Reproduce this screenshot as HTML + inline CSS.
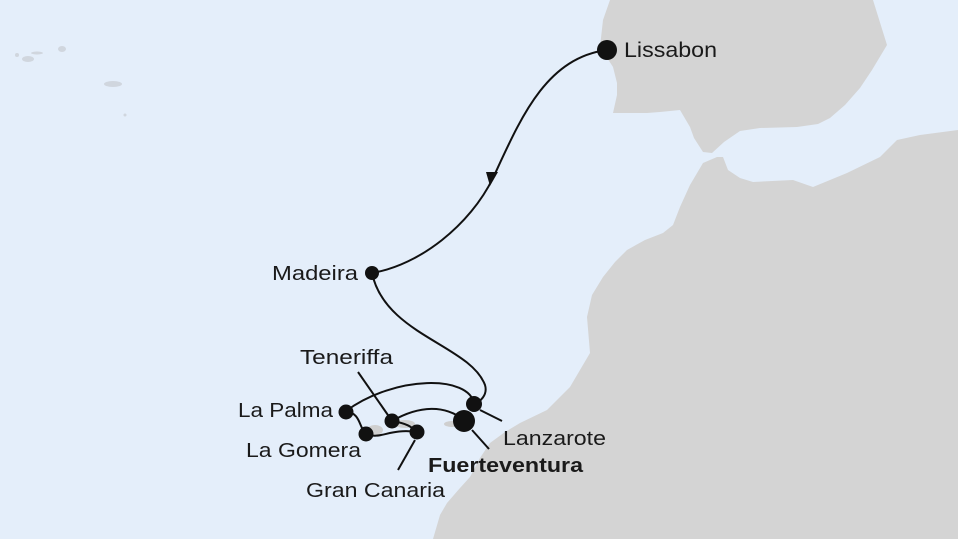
<!DOCTYPE html>
<html><head><meta charset="utf-8"><style>
html,body{margin:0;padding:0;background:#e4eefa;}
svg{display:block}
text{font-family:"Liberation Sans",sans-serif;font-size:20px;fill:#1a1a1a}
</style></head><body>
<svg width="958" height="539" viewBox="0 0 958 539">
<rect width="958" height="539" fill="#e4eefa"/>
<path fill="#d4d4d4" d="M610,0 L873,0 L887,45 L872,70 L860,88 L845,105 L830,118 L818,124 L797,127 L760,128 L740,131 L724,142 L712,153 L703,152 L694,138 L690,127 L680,110 L660,112 L647,113 L613,113 L617,95 L617,83 L613,67 L600,47 L603,20 Z"/>
<path fill="#d4d4d4" d="M717,157 L723,157 L728,170 L740,178 L753,182 L793,180 L813,187 L830,180 L847,173 L880,157 L897,140 L920,135 L958,130 L958,539 L433,539 L440,515 L447,503 L460,488 L470,477 L480,458 L490,443 L505,432 L520,423 L547,410 L570,387 L590,353 L587,317 L592,295 L603,277 L615,262 L627,250 L645,240 L663,233 L673,225 L680,207 L690,185 L703,163 Z"/>
<ellipse cx="452" cy="424" rx="8" ry="3" fill="#cfcfcf"/>
<ellipse cx="405" cy="424" rx="10" ry="4" fill="#cfcfcf"/>
<ellipse cx="375" cy="430" rx="8" ry="5" fill="#cfcfcf"/>
<ellipse cx="28" cy="59" rx="6" ry="3" fill="#d0d6de"/>
<ellipse cx="37" cy="53" rx="6" ry="1.5" fill="#d0d6de"/>
<ellipse cx="17" cy="55" rx="2" ry="2" fill="#d0d6de"/>
<ellipse cx="62" cy="49" rx="4" ry="3" fill="#d0d6de"/>
<ellipse cx="113" cy="84" rx="9" ry="3" fill="#d0d6de"/>
<circle cx="125" cy="115" r="1.5" fill="#d0d6de"/>
<g fill="none" stroke="#111" stroke-width="2">
<path d="M607,50 C545,58 520,120 493,178 C470,225 420,265 372,273"/>
<path d="M372,273 C385,335 470,345 485,385 C488,395 480,402 474,404"/>
<path d="M474,404 C470,375 395,375 346,411"/>
<path d="M346,411 C362,414 358,428 367,434 C380,440 390,428 417,432"/>
<path d="M392,421 C410,424 412,428 417,432"/>
<path d="M392,421 C420,405 445,405 464,420"/>
<path d="M358,372 L390,418"/>
<path d="M480,410 L502,421"/>
<path d="M472,430 L489,449"/>
<path d="M415,440 L398,470"/>
</g>
<path d="M486,172 L498,172 L490,186 Z" fill="#111"/>
<g fill="#111">
<circle cx="607" cy="50" r="10"/>
<circle cx="372" cy="273" r="7"/>
<circle cx="474" cy="404" r="8"/>
<circle cx="464" cy="421" r="11"/>
<circle cx="346" cy="412" r="7.5"/>
<circle cx="392" cy="421" r="7.5"/>
<circle cx="366" cy="434" r="7.5"/>
<circle cx="417" cy="432" r="7.5"/>
</g>
<text x="624" y="57" style="font-size:21px" textLength="93" lengthAdjust="spacingAndGlyphs">Lissabon</text>
<text x="272" y="280" textLength="86" lengthAdjust="spacingAndGlyphs">Madeira</text>
<text x="300" y="364" textLength="93" lengthAdjust="spacingAndGlyphs">Teneriffa</text>
<text x="238" y="417" textLength="95" lengthAdjust="spacingAndGlyphs">La Palma</text>
<text x="246" y="457" textLength="115" lengthAdjust="spacingAndGlyphs">La Gomera</text>
<text x="306" y="497" textLength="139" lengthAdjust="spacingAndGlyphs">Gran Canaria</text>
<text x="503" y="445" textLength="103" lengthAdjust="spacingAndGlyphs">Lanzarote</text>
<text x="428" y="472" style="font-weight:bold" textLength="155" lengthAdjust="spacingAndGlyphs">Fuerteventura</text>
</svg>
</body></html>
